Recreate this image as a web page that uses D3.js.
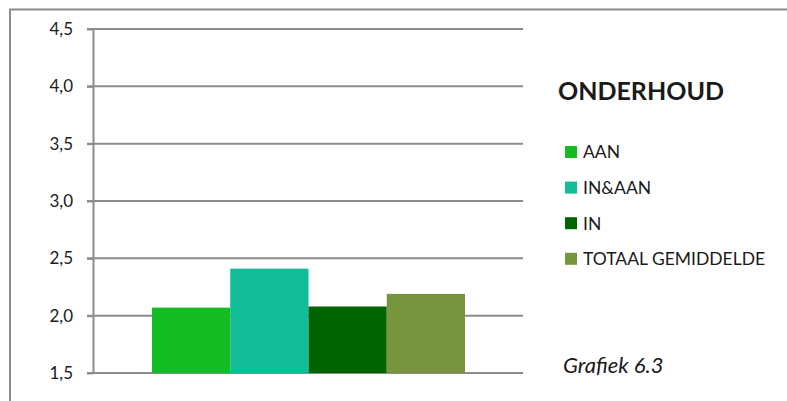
<!DOCTYPE html>
<html>
<head>
<meta charset="utf-8">
<script src="https://cdn.jsdelivr.net/npm/d3@7"></script>
<style>
  body { margin: 0; background: #fff; }
  text { font-family: Lato, "Open Sans", sans-serif; fill: #1a1a1a; }
</style>
</head>
<body>
<svg class="chart"></svg>
<script>
var width = 787,
    height = 401;

var categories = ['AAN', 'IN&AAN', 'IN', 'TOTAAL GEMIDDELDE'];
var values = [2.07, 2.41, 2.08, 2.19];
var colors = ['#13bc23', '#12bc96', '#006400', '#77953c'];
var yTicks = [1.5, 2.0, 2.5, 3.0, 3.5, 4.0, 4.5];

var plotLeft = 93, plotRight = 523, plotTop = 29, plotBottom = 373;

var chart = d3.select('.chart')
    .attr('width', width)
    .attr('height', height);

// outer frame (runs off the right and bottom edge)
chart.append('path')
  .attr('d', 'M10,' + (height + 5) + 'V9.5H' + (width + 5))
  .attr('fill', 'none')
  .attr('stroke', '#8c8c8c')
  .attr('stroke-width', 2);

var yscale = d3.scaleLinear().domain([1.5, 4.5]).range([plotBottom, plotTop]);
var xscale = d3.scaleBand().domain(categories).range([152, 465]).paddingInner(0);

// grid lines
chart.append('g').selectAll('line')
    .data(yTicks)
  .enter().append('line')
    .attr('x1', plotLeft - 6)
    .attr('x2', plotRight)
    .attr('y1', function(d) { return yscale(d); })
    .attr('y2', function(d) { return yscale(d); })
    .attr('stroke', '#8c8c8c')
    .attr('stroke-width', 2);

// bars
chart.append('g').selectAll('rect')
    .data(values)
  .enter().append('rect')
    .attr('x', function(d, i) { return xscale(categories[i]); })
    .attr('y', function(d) { return yscale(d); })
    .attr('width', xscale.bandwidth())
    .attr('height', function(d) { return plotBottom - yscale(d); })
    .attr('fill', function(d, i) { return colors[i]; });

// y axis
var yaxis = d3.axisLeft(yscale)
    .tickValues(yTicks)
    .tickSize(6)
    .tickSizeOuter(0)
    .tickFormat(function(d) { return d3.format('.1f')(d).replace('.', ','); });

var ay = chart.append('g')
    .attr('transform', 'translate(' + plotLeft + ',0)')
    .call(yaxis);
ay.select('.domain').attr('stroke', '#8c8c8c').attr('stroke-width', 2);
ay.selectAll('.tick line').attr('stroke', '#8c8c8c').attr('stroke-width', 2);
ay.selectAll('.tick text')
  .attr('x', -20)
  .style('font-size', '17px')
  .style('font-family', 'Lato, sans-serif')
  .attr('fill', '#1a1a1a');

// legend title
chart.append('text')
  .attr('x', 558)
  .attr('y', 100)
  .style('font-size', '25px')
  .style('font-weight', 'bold')
  .text('ONDERHOUD');

// legend
var legend = chart.append('g').selectAll('g')
    .data(categories)
  .enter().append('g')
    .attr('transform', function(d, i) { return 'translate(565,' + (152 + i * 35.6) + ')'; });

legend.append('rect')
  .attr('x', 0)
  .attr('y', -6)
  .attr('width', 12)
  .attr('height', 12)
  .attr('fill', function(d, i) { return colors[i]; });

legend.append('text')
  .attr('x', 18)
  .attr('dy', '.36em')
  .style('font-size', '17.5px')
  .text(function(d) { return d; });

chart.append('text')
  .attr('x', 563)
  .attr('y', 373)
  .style('font-size', '22px')
  .style('font-style', 'italic')
  .text('Grafiek 6.3');
</script>
</body>
</html>
